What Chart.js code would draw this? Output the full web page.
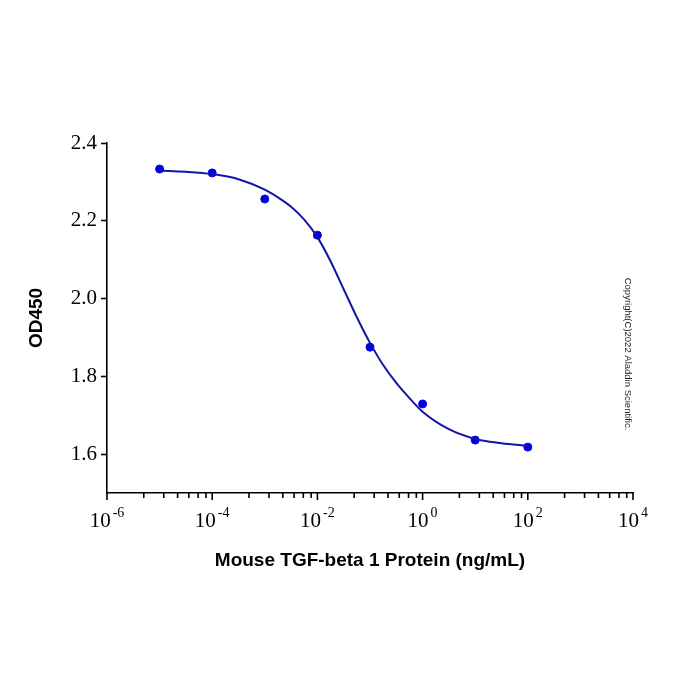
<!DOCTYPE html>
<html>
<head>
<meta charset="utf-8">
<script src="https://cdn.jsdelivr.net/npm/chart.js@4/dist/chart.umd.min.js"></script>
<style>
  html,body{margin:0;padding:0;background:#fff;}
  #wrap{width:700px;height:700px;position:relative;}
</style>
</head>
<body>
<div id="wrap"><canvas id="c" width="700" height="700"></canvas></div>
<script>
// ---- data ----
const doses = [1e-5, 1e-4, 1e-3, 1e-2, 1e-1, 1e0, 1e1, 1e2];
const od450 = [2.333, 2.323, 2.256, 2.163, 1.875, 1.729, 1.636, 1.618];

// fitted 4PL curve
const fitDoses = [1e-5, 3.16e-5, 1e-4, 3.16e-4, 1e-3, 1.78e-3, 3.16e-3, 5.62e-3, 1e-2, 1.78e-2, 3.16e-2, 5.62e-2, 1e-1, 1.78e-1, 3.16e-1, 5.62e-1, 1e0, 3.16e0, 1e1, 3.16e1, 1e2];
const fitOD = [2.329, 2.326, 2.320, 2.307, 2.280, 2.260, 2.236, 2.203, 2.158, 2.096, 2.024, 1.952, 1.886, 1.829, 1.783, 1.744, 1.709, 1.664, 1.639, 1.628, 1.621];

// axis ticks
const xMajorExp = [-6, -4, -2, 0, 2, 4];
const xMinorMult = [5, 12, 22, 36, 54, 76];
const yTicks = [1.6, 1.8, 2.0, 2.2, 2.4];

const xTitle = 'Mouse TGF-beta 1 Protein (ng/mL)';
const yTitle = 'OD450';
const copyright = 'Copyright(C)2022 Aladdin Scientific.';

const deco = {
  id: 'deco',
  afterDraw(chart) {
    const {ctx, scales: {x, y}, chartArea: ca} = chart;
    ctx.save();
    ctx.strokeStyle = '#000';
    ctx.lineWidth = 1.6;
    const yb = ca.bottom;
    for (let i = 0; i < xMajorExp.length; i++) {
      const v = Math.pow(10, xMajorExp[i]);
      const px = x.getPixelForValue(v);
      ctx.beginPath(); ctx.moveTo(px, yb); ctx.lineTo(px, yb + 7); ctx.stroke();
      if (i < xMajorExp.length - 1) {
        for (const m of xMinorMult) {
          const mx = x.getPixelForValue(v * m);
          ctx.beginPath(); ctx.moveTo(mx, yb); ctx.lineTo(mx, yb + 5); ctx.stroke();
        }
      }
      ctx.fillStyle = '#000';
      ctx.textBaseline = 'alphabetic';
      ctx.font = '21px "Liberation Serif", "Times New Roman", serif';
      const base = '10';
      const wb = ctx.measureText(base).width;
      ctx.font = '14px "Liberation Serif", "Times New Roman", serif';
      const ex = String(xMajorExp[i]);
      const we = ctx.measureText(ex).width;
      const total = wb + 2 + we;
      const left = px - total / 2;
      ctx.font = '21px "Liberation Serif", "Times New Roman", serif';
      ctx.textAlign = 'left';
      ctx.fillText(base, left, 527);
      ctx.font = '14px "Liberation Serif", "Times New Roman", serif';
      ctx.fillText(ex, left + wb + 2, 517);
    }
    ctx.fillStyle = '#000';
    ctx.textAlign = 'center';
    ctx.textBaseline = 'middle';
    ctx.font = 'bold 19px "Liberation Sans", Arial, sans-serif';
    ctx.fillText(xTitle, (ca.left + ca.right) / 2, 561);
    ctx.save();
    ctx.translate(37, (ca.top + ca.bottom) / 2);
    ctx.rotate(-Math.PI / 2);
    ctx.fillText(yTitle, 0, 0);
    ctx.restore();
    ctx.save();
    ctx.translate(628, 354);
    ctx.rotate(Math.PI / 2);
    ctx.fillStyle = '#222';
    ctx.font = '9.5px "Liberation Sans", Arial, sans-serif';
    ctx.fillText(copyright, 0, 0);
    ctx.restore();
    ctx.restore();
  }
};

new Chart(document.getElementById('c'), {
  type: 'scatter',
  data: {
    datasets: [
      {
        label: 'fit',
        type: 'line',
        data: fitDoses.map((d, i) => ({x: d, y: fitOD[i]})),
        borderColor: '#1414a8',
        borderWidth: 2,
        pointRadius: 0,
        cubicInterpolationMode: 'monotone',
        fill: false
      },
      {
        label: 'data',
        data: doses.map((d, i) => ({x: d, y: od450[i]})),
        backgroundColor: '#0000e6',
        borderColor: '#0000e6',
        pointRadius: 4,
        pointHoverRadius: 4
      }
    ]
  },
  options: {
    responsive: false,
    animation: false,
    devicePixelRatio: 1,
    layout: {padding: {top: 143, right: 67, left: 0, bottom: 0}},
    plugins: {legend: {display: false}, tooltip: {enabled: false}},
    scales: {
      x: {
        type: 'logarithmic',
        min: 1e-6, max: 1e4,
        grid: {display: false},
        border: {display: true, color: '#000', width: 1.6},
        ticks: {display: false},
        afterFit(s) { s.height = 207; }
      },
      y: {
        min: 1.5, max: 2.4,
        afterBuildTicks(s) { s.ticks = yTicks.map(v => ({value: v})); },
        grid: {display: true, drawOnChartArea: false, drawTicks: true, tickLength: 6, color: '#000', tickWidth: 1.6},
        border: {display: true, color: '#000', width: 1.6},
        ticks: {
          color: '#000',
          padding: 4,
          font: {family: '"Liberation Serif", "Times New Roman", serif', size: 21},
          callback: v => Number(v).toFixed(1)
        },
        afterFit(s) { s.width = 107; }
      }
    }
  },
  plugins: [deco]
});
</script>
</body>
</html>
